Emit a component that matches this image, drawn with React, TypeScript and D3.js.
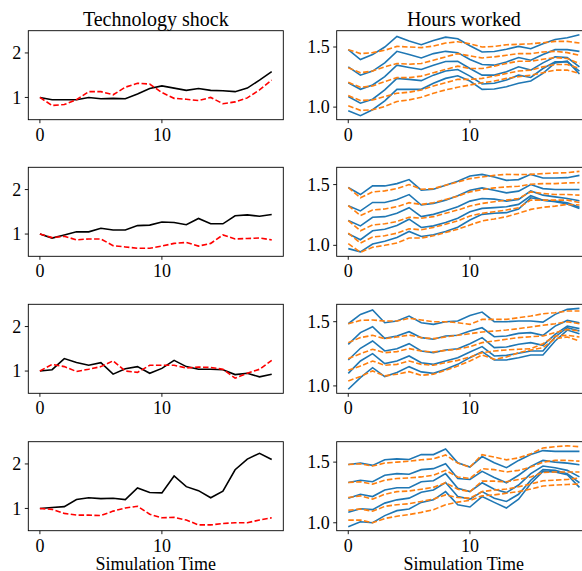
import React from 'react';
import * as d3 from 'd3';

// time steps 0..19
const steps = d3.range(20);

const xTicks = [0, 10];
const shockTicks = [1, 2];
const hoursTicks = [1.0, 1.5];
const titles = ['Technology shock', 'Hours worked'];
const xLabel = 'Simulation Time';

// left column: black solid vs red dashed, one array per row
const shockSolid = [
  [1.0, 0.95, 0.95, 0.95, 1.0, 0.97, 0.98, 0.97, 1.08, 1.2, 1.26, 1.21, 1.16, 1.2, 1.16, 1.15, 1.13, 1.21, 1.39, 1.58],
  [1.0, 0.91, 0.98, 1.05, 1.05, 1.13, 1.09, 1.09, 1.19, 1.2, 1.27, 1.26, 1.21, 1.35, 1.23, 1.23, 1.41, 1.43, 1.4, 1.44],
  [1.0, 1.03, 1.28, 1.19, 1.13, 1.19, 0.93, 1.05, 1.1, 0.95, 1.06, 1.24, 1.1, 1.04, 1.04, 1.03, 0.92, 0.95, 0.87, 0.93],
  [1.0, 1.02, 1.04, 1.2, 1.24, 1.22, 1.23, 1.2, 1.46, 1.36, 1.35, 1.73, 1.49, 1.4, 1.24, 1.39, 1.87, 2.11, 2.24, 2.1],
];
const shockDashed = [
  [1.0, 0.82, 0.84, 0.95, 1.13, 1.13, 1.06, 1.23, 1.32, 1.3, 1.11, 0.98, 0.96, 0.93, 1.0, 0.86, 0.9, 0.99, 1.17, 1.39],
  [1.0, 0.92, 0.95, 0.87, 0.89, 0.89, 0.74, 0.71, 0.68, 0.68, 0.73, 0.79, 0.81, 0.73, 0.79, 0.98, 0.89, 0.9, 0.91, 0.87],
  [1.0, 1.15, 1.1, 0.99, 1.04, 1.1, 1.23, 1.0, 0.97, 1.13, 1.13, 1.13, 1.07, 1.09, 1.08, 1.04, 0.84, 0.95, 1.04, 1.24],
  [1.0, 0.98, 0.89, 0.85, 0.85, 0.84, 0.94, 1.01, 1.05, 0.87, 0.79, 0.8, 0.74, 0.63, 0.63, 0.66, 0.68, 0.68, 0.74, 0.79],
];

// right column: five blue solid and five orange dashed paths per row
const hoursSolid = [
  [
    [1.478, 1.396, 1.437, 1.5, 1.588, 1.549, 1.519, 1.555, 1.582, 1.569, 1.511, 1.459, 1.462, 1.481, 1.505, 1.486, 1.527, 1.563, 1.577, 1.602],
    [1.335, 1.266, 1.3, 1.368, 1.464, 1.437, 1.409, 1.445, 1.464, 1.453, 1.396, 1.354, 1.349, 1.376, 1.412, 1.39, 1.437, 1.478, 1.478, 1.464],
    [1.203, 1.148, 1.184, 1.253, 1.349, 1.33, 1.313, 1.349, 1.379, 1.382, 1.321, 1.266, 1.266, 1.294, 1.335, 1.308, 1.368, 1.418, 1.412, 1.335],
    [1.088, 1.033, 1.066, 1.143, 1.239, 1.231, 1.22, 1.266, 1.3, 1.313, 1.258, 1.192, 1.198, 1.225, 1.266, 1.247, 1.321, 1.376, 1.376, 1.3],
    [0.97, 0.929, 0.978, 1.052, 1.148, 1.148, 1.148, 1.198, 1.239, 1.261, 1.217, 1.148, 1.151, 1.17, 1.198, 1.217, 1.28, 1.368, 1.382, 1.275],
  ],
  [
    [1.476, 1.418, 1.489, 1.489, 1.508, 1.541, 1.454, 1.462, 1.495, 1.527, 1.571, 1.584, 1.563, 1.535, 1.541, 1.584, 1.554, 1.554, 1.557, 1.576],
    [1.326, 1.283, 1.353, 1.353, 1.378, 1.418, 1.332, 1.345, 1.372, 1.408, 1.454, 1.473, 1.454, 1.432, 1.446, 1.5, 1.467, 1.459, 1.459, 1.459],
    [1.204, 1.16, 1.231, 1.236, 1.264, 1.31, 1.236, 1.255, 1.285, 1.318, 1.364, 1.386, 1.38, 1.364, 1.378, 1.448, 1.413, 1.399, 1.386, 1.367],
    [1.095, 1.046, 1.12, 1.133, 1.163, 1.215, 1.147, 1.16, 1.188, 1.223, 1.277, 1.304, 1.31, 1.318, 1.337, 1.408, 1.372, 1.364, 1.351, 1.313],
    [0.973, 0.946, 1.011, 1.033, 1.065, 1.114, 1.073, 1.087, 1.114, 1.149, 1.209, 1.255, 1.264, 1.269, 1.299, 1.391, 1.372, 1.359, 1.34, 1.304],
  ],
  [
    [1.484, 1.557, 1.591, 1.492, 1.505, 1.544, 1.492, 1.479, 1.5, 1.505, 1.549, 1.575, 1.5, 1.5, 1.505, 1.505, 1.497, 1.557, 1.596, 1.604],
    [1.324, 1.415, 1.461, 1.37, 1.389, 1.422, 1.376, 1.363, 1.389, 1.394, 1.427, 1.453, 1.383, 1.389, 1.409, 1.415, 1.394, 1.466, 1.51, 1.492],
    [1.202, 1.293, 1.35, 1.272, 1.29, 1.329, 1.272, 1.259, 1.28, 1.29, 1.329, 1.376, 1.298, 1.303, 1.324, 1.337, 1.316, 1.402, 1.466, 1.446],
    [1.098, 1.194, 1.251, 1.174, 1.194, 1.233, 1.181, 1.168, 1.194, 1.22, 1.264, 1.306, 1.233, 1.238, 1.254, 1.272, 1.272, 1.381, 1.453, 1.427],
    [0.974, 1.065, 1.142, 1.073, 1.104, 1.15, 1.109, 1.098, 1.13, 1.168, 1.22, 1.267, 1.202, 1.202, 1.22, 1.241, 1.241, 1.35, 1.435, 1.407],
  ],
  [
    [1.481, 1.492, 1.473, 1.519, 1.527, 1.522, 1.562, 1.562, 1.608, 1.495, 1.459, 1.546, 1.495, 1.454, 1.514, 1.562, 1.595, 1.589, 1.589, 1.589],
    [1.332, 1.351, 1.338, 1.392, 1.405, 1.4, 1.438, 1.446, 1.486, 1.365, 1.357, 1.424, 1.373, 1.33, 1.392, 1.465, 1.514, 1.5, 1.492, 1.478],
    [1.203, 1.235, 1.216, 1.27, 1.289, 1.289, 1.338, 1.346, 1.405, 1.284, 1.257, 1.33, 1.276, 1.249, 1.311, 1.405, 1.468, 1.454, 1.432, 1.378],
    [1.086, 1.116, 1.108, 1.162, 1.189, 1.203, 1.251, 1.27, 1.332, 1.216, 1.195, 1.257, 1.203, 1.176, 1.235, 1.351, 1.438, 1.432, 1.405, 1.33],
    [0.968, 1.008, 1.0, 1.059, 1.1, 1.114, 1.168, 1.189, 1.257, 1.149, 1.13, 1.216, 1.168, 1.122, 1.195, 1.324, 1.424, 1.419, 1.397, 1.292],
  ],
];
const hoursDashed = [
  [
    [1.478, 1.445, 1.453, 1.473, 1.505, 1.5, 1.495, 1.508, 1.533, 1.544, 1.527, 1.5, 1.505, 1.519, 1.522, 1.527, 1.536, 1.547, 1.547, 1.533],
    [1.327, 1.286, 1.3, 1.335, 1.363, 1.357, 1.363, 1.39, 1.418, 1.445, 1.426, 1.409, 1.418, 1.431, 1.445, 1.445, 1.459, 1.464, 1.453, 1.431],
    [1.206, 1.165, 1.176, 1.212, 1.245, 1.245, 1.258, 1.286, 1.313, 1.341, 1.321, 1.321, 1.341, 1.363, 1.382, 1.382, 1.398, 1.412, 1.404, 1.363],
    [1.096, 1.055, 1.06, 1.088, 1.115, 1.124, 1.143, 1.176, 1.203, 1.231, 1.231, 1.239, 1.258, 1.28, 1.3, 1.308, 1.335, 1.354, 1.354, 1.321],
    [1.011, 0.973, 0.978, 1.005, 1.047, 1.06, 1.082, 1.115, 1.143, 1.165, 1.184, 1.203, 1.217, 1.239, 1.253, 1.266, 1.286, 1.308, 1.308, 1.28],
  ],
  [
    [1.476, 1.391, 1.44, 1.448, 1.467, 1.5, 1.462, 1.467, 1.495, 1.522, 1.549, 1.563, 1.576, 1.584, 1.582, 1.584, 1.59, 1.595, 1.598, 1.609],
    [1.326, 1.245, 1.291, 1.299, 1.318, 1.351, 1.337, 1.351, 1.378, 1.405, 1.44, 1.459, 1.473, 1.481, 1.486, 1.503, 1.508, 1.508, 1.514, 1.516],
    [1.204, 1.12, 1.168, 1.177, 1.196, 1.231, 1.223, 1.236, 1.264, 1.291, 1.323, 1.345, 1.359, 1.372, 1.386, 1.44, 1.427, 1.418, 1.418, 1.413],
    [1.1, 1.019, 1.068, 1.079, 1.1, 1.136, 1.128, 1.147, 1.174, 1.201, 1.242, 1.264, 1.277, 1.291, 1.31, 1.372, 1.372, 1.372, 1.372, 1.353],
    [1.014, 0.943, 0.984, 1.0, 1.019, 1.06, 1.06, 1.079, 1.106, 1.133, 1.168, 1.201, 1.217, 1.236, 1.264, 1.296, 1.313, 1.323, 1.337, 1.332],
  ],
  [
    [1.484, 1.51, 1.513, 1.505, 1.505, 1.526, 1.513, 1.5, 1.5, 1.492, 1.479, 1.518, 1.518, 1.518, 1.531, 1.544, 1.562, 1.57, 1.583, 1.583],
    [1.337, 1.376, 1.394, 1.368, 1.381, 1.396, 1.376, 1.368, 1.381, 1.394, 1.407, 1.42, 1.427, 1.435, 1.446, 1.459, 1.472, 1.484, 1.5, 1.484],
    [1.212, 1.251, 1.285, 1.259, 1.267, 1.29, 1.272, 1.264, 1.277, 1.285, 1.306, 1.337, 1.35, 1.363, 1.376, 1.383, 1.389, 1.415, 1.44, 1.427],
    [1.122, 1.155, 1.194, 1.161, 1.168, 1.194, 1.168, 1.161, 1.181, 1.199, 1.225, 1.259, 1.272, 1.28, 1.285, 1.29, 1.329, 1.389, 1.394, 1.381],
    [1.039, 1.073, 1.117, 1.078, 1.091, 1.111, 1.083, 1.091, 1.122, 1.155, 1.194, 1.241, 1.207, 1.225, 1.259, 1.28, 1.298, 1.368, 1.381, 1.35],
  ],
  [
    [1.481, 1.486, 1.468, 1.492, 1.5, 1.508, 1.519, 1.527, 1.559, 1.492, 1.459, 1.562, 1.541, 1.519, 1.535, 1.568, 1.616, 1.627, 1.635, 1.627],
    [1.332, 1.338, 1.319, 1.351, 1.365, 1.37, 1.378, 1.392, 1.432, 1.378, 1.365, 1.446, 1.438, 1.419, 1.432, 1.459, 1.5, 1.514, 1.514, 1.508],
    [1.208, 1.222, 1.195, 1.235, 1.257, 1.262, 1.276, 1.292, 1.33, 1.276, 1.257, 1.343, 1.343, 1.338, 1.357, 1.378, 1.414, 1.419, 1.419, 1.419],
    [1.103, 1.114, 1.095, 1.135, 1.149, 1.157, 1.176, 1.195, 1.23, 1.208, 1.203, 1.257, 1.27, 1.278, 1.297, 1.319, 1.346, 1.351, 1.357, 1.37],
    [1.022, 1.022, 1.0, 1.035, 1.054, 1.068, 1.086, 1.108, 1.149, 1.17, 1.184, 1.222, 1.23, 1.243, 1.257, 1.278, 1.303, 1.311, 1.316, 1.319],
  ],
];

const W = 582;
const H = 571;
const rowTops = [30.7, 167.3, 304.3, 441.7];
const panelH = 89;
const cols = [
  { x0: 28.3, x1: 283.3 },
  { x0: 336.7, x1: 591 },
];
const font = '"Liberation Serif", "Times New Roman", serif';
const tickSize = 18;
const titleSize = 20;
const labelSize = 18;
const dash = '5.5,2.4';

// matplotlib-like autoscale with 5% margins
const padded = (vals: number[]) => {
  const [lo, hi] = d3.extent(vals) as [number, number];
  const m = (hi - lo) * 0.05;
  return [lo - m, hi + m];
};

const Panel = ({ row, col }: { row: number; col: number }) => {
  const { x0, x1 } = cols[col];
  const y0 = rowTops[row];
  const y1 = y0 + panelH;
  const x = d3.scaleLinear().domain([-0.95, 19.95]).range([x0, x1]);
  const solid = col === 0 ? [shockSolid[row]] : hoursSolid[row];
  const dashed = col === 0 ? [shockDashed[row]] : hoursDashed[row];
  const yDomain = col === 0 ? [0.5, 2.5] : padded([...solid.flat(), ...dashed.flat()]);
  const y = d3.scaleLinear().domain(yDomain).range([y1, y0]);
  const yTicks = col === 0 ? shockTicks : hoursTicks;
  const fmt = col === 0 ? d3.format('d') : d3.format('.1f');
  const line = d3.line<number>().x((_, i) => x(steps[i])).y((d) => y(d));
  const clipId = `clip-${row}-${col}`;

  return (
    <g>
      <defs>
        <clipPath id={clipId}>
          <rect x={x0} y={y0} width={x1 - x0} height={panelH} />
        </clipPath>
      </defs>
      <g clipPath={`url(#${clipId})`}>
        {col === 0 ? (
          <>
            <path d={line(solid[0]) || ''} fill="none" stroke="#000" strokeWidth={1.6} />
            <path d={line(dashed[0]) || ''} fill="none" stroke="#ff0000" strokeWidth={1.6} strokeDasharray={dash} />
          </>
        ) : (
          <>
            {solid.map((s, i) => (
              <path key={'s' + i} d={line(s) || ''} fill="none" stroke="#1f77b4" strokeWidth={1.6} />
            ))}
            {dashed.map((s, i) => (
              <path key={'d' + i} d={line(s) || ''} fill="none" stroke="#ff7f0e" strokeWidth={1.6} strokeDasharray={dash} />
            ))}
          </>
        )}
      </g>
      <rect x={x0} y={y0} width={x1 - x0} height={panelH} fill="none" stroke="#000" strokeWidth={0.9} />
      {xTicks.map((t) => (
        <g key={'x' + t}>
          <line x1={x(t)} x2={x(t)} y1={y1} y2={y1 + 3.5} stroke="#000" strokeWidth={0.9} />
          <text x={x(t)} y={y1 + 21} textAnchor="middle" fontFamily={font} fontSize={tickSize}>
            {t}
          </text>
        </g>
      ))}
      {yTicks.map((t) => (
        <g key={'y' + t}>
          <line x1={x0 - 3.5} x2={x0} y1={y(t)} y2={y(t)} stroke="#000" strokeWidth={0.9} />
          <text x={x0 - 7} y={y(t)} dy="0.34em" textAnchor="end" fontFamily={font} fontSize={tickSize}>
            {fmt(t)}
          </text>
        </g>
      ))}
      {row === 0 && (
        <text x={(x0 + x1) / 2} y={y0 - 5} textAnchor="middle" fontFamily={font} fontSize={titleSize}>
          {titles[col]}
        </text>
      )}
      {row === 3 && (
        <text x={(x0 + x1) / 2} y={569.5} textAnchor="middle" fontFamily={font} fontSize={labelSize}>
          {xLabel}
        </text>
      )}
    </g>
  );
};

export default function App() {
  return (
    <div style={{ position: 'absolute', left: 0, top: 0 }}>
      <svg width={W} height={H} style={{ display: 'block', background: '#fff' }}>
        {rowTops.map((_, r) =>
          cols.map((_, c) => <Panel key={`${r}-${c}`} row={r} col={c} />)
        )}
      </svg>
    </div>
  );
}
